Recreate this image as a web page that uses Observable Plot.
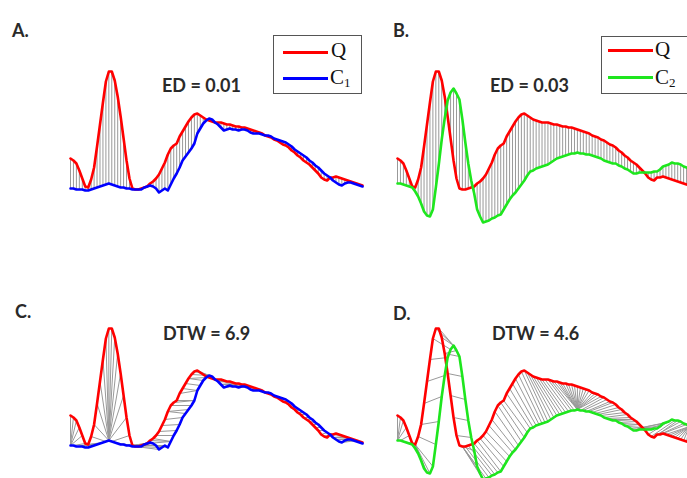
<!DOCTYPE html>
<html>
<head>
<meta charset="utf-8">
<script src="https://cdn.jsdelivr.net/npm/d3@7"></script>
<script src="https://cdn.jsdelivr.net/npm/@observablehq/plot@0.6"></script>
<style>
  html, body { margin: 0; padding: 0; background: #fff; }
  #fig { position: relative; width: 687px; height: 478px; overflow: hidden; background: #fff; }
  .panel { position: absolute; }
  .lbl { position: absolute; font-family: Lato, "Open Sans", sans-serif; font-weight: 700; font-size: 18px; line-height: 18px; color: #2a2a2a; white-space: nowrap; }
  .box { position: absolute; border: 1.5px solid #555; background: #fff; box-sizing: border-box; }
  .key { position: absolute; height: 3px; }
  .ser { position: absolute; font-family: "Liberation Serif", "DejaVu Serif", serif; font-size: 21px; line-height: 21px; color: #111; white-space: nowrap; }
  .ser sub { font-size: 13px; vertical-align: -3px; line-height: 0; }
</style>
</head>
<body>
<div id="fig"></div>
<script>
// Query series Q and candidate series C1, C2 (arbitrary amplitude units, 100 samples)
const Q = [32,30,27,20,12,4,3,11,23,44, 66,88,109,119,119,110,94,74,52,30,
  12,2,1,1,2,3,4,7,9,12, 16,22,28,36,42,45,47,54,59,64,
  69,73,76,77,75,73,71,70,69,68, 68,68,67,66,66,65,64,64,63,63,
  62,61,60,59,58,57,55,54,53,51, 50,48,46,45,43,40,38,35,33,30,
  28,26,23,20,17,13,11,10,13,13, 14,13,12,11,10,9,8,7,6,5];
const C1 = [2,2,1,1,1,0,0,1,2,3, 4,5,6,7,6,5,4,3,3,2,
  2,1,1,1,1,3,4,5,4,2, -2,0,2,0,6,12,17,23,30,34,
  38,42,47,57,62,67,70,72,71,68, 66,63,60,61,62,61,61,60,61,61,
  60,58,57,57,57,56,55,55,54,52, 51,50,49,48,46,44,41,39,37,35,
  33,30,28,25,23,20,17,15,13,10, 8,6,5,7,8,8,7,6,5,4];
const C2 = [7,7,6,5,4,3,-1,-6,-13,-21, -25,-26,-19,3,26,51,72,90,98,102,
  97,91,71,48,27,10,-3,-19,-26,-32, -31,-30,-28,-27,-25,-24,-19,-14,-9,-5,
  -2,2,6,10,15,19,20,22,23,24, 25,26,28,30,32,33,34,35,36,37,
  37,38,37,37,36,36,35,34,33,32, 30,29,28,27,27,25,24,22,21,19,
  17,17,18,18,18,18,18,19,19,21, 24,25,26,28,27,27,26,24,23,21];

const panelLabels = ["A.", "B.", "C.", "D."];
const measures = ["ED = 0.01", "ED = 0.03", "DTW = 6.9", "DTW = 4.6"];
const seriesNames = ["Q", "C"];
const colors = {Q: "#ff0000", C1: "#0000ff", C2: "#1ee61e"};

const idx = d3.range(Q.length);

// Dynamic time warping alignment path (Sakoe-Chiba band) between two series
function dtwPath(a, b, win) {
  const n = a.length, m = b.length;
  const D = Array.from({length: n + 1}, () => new Float64Array(m + 1).fill(Infinity));
  D[0][0] = 0;
  for (let i = 1; i <= n; i++)
    for (let j = Math.max(1, i - win); j <= Math.min(m, i + win); j++) {
      const c = (a[i - 1] - b[j - 1]) ** 2;
      D[i][j] = c + Math.min(D[i - 1][j], D[i][j - 1], D[i - 1][j - 1]);
    }
  const path = [];
  let i = n, j = m;
  while (i > 0 && j > 0) {
    path.push([i - 1, j - 1]);
    if (i === 1) { j--; continue; }
    if (j === 1) { i--; continue; }
    const d = D[i - 1][j - 1], u = D[i - 1][j], l = D[i][j - 1];
    if (d <= u && d <= l) { i--; j--; }
    else if (u <= l) i--;
    else j--;
  }
  return path.reverse();
}

function panel(C, cColor, mode, xRange, yRange, w, h) {
  const links = mode === "ED"
    ? Plot.ruleX(idx, {x: i => i, y1: i => Q[i], y2: i => C[i], stroke: "#999", strokeWidth: 1})
    : Plot.link(dtwPath(Q, C, 8), {x1: d => d[0], y1: d => Q[d[0]], x2: d => d[1], y2: d => C[d[1]], stroke: "#999", strokeWidth: 1});
  return Plot.plot({
    width: w, height: h,
    margin: 0,
    axis: null,
    style: {background: "transparent", overflow: "hidden"},
    x: {domain: [0, 99], range: xRange},
    y: {domain: [0, 120], range: yRange},
    marks: [
      links,
      Plot.line(idx, {x: i => i, y: i => Q[i], stroke: colors.Q, strokeWidth: 2.6}),
      Plot.line(idx, {x: i => i, y: i => C[i], stroke: cColor, strokeWidth: 2.6})
    ]
  });
}

const fig = document.getElementById("fig");
const W = 372, H = 239;
const specs = [
  {C: C1, col: colors.C1, mode: "ED", left: 0, top: 0, w: W, xr: [70, 362], yr: [190, 70]},
  {C: C2, col: colors.C2, mode: "ED", left: W, top: 0, w: 687 - W, xr: [397 - W, 689 - W], yr: [190, 70]},
  {C: C1, col: colors.C1, mode: "DTW", left: 0, top: H, w: W, xr: [70, 362], yr: [447 - H, 327 - H]},
  {C: C2, col: colors.C2, mode: "DTW", left: W, top: H, w: 687 - W, xr: [397 - W, 689 - W], yr: [447 - H, 327 - H]}
];
for (const s of specs) {
  const svg = panel(s.C, s.col, s.mode, s.xr, s.yr, s.w, H);
  svg.classList.add("panel");
  svg.style.left = s.left + "px";
  svg.style.top = s.top + "px";
  fig.appendChild(svg);
}

function addEl(cls, left, top, html, extra) {
  const d = document.createElement("div");
  d.className = cls;
  d.style.left = left + "px";
  d.style.top = top + "px";
  if (html != null) d.innerHTML = html;
  if (extra) Object.assign(d.style, extra);
  fig.appendChild(d);
  return d;
}

// panel letters and distance annotations
addEl("lbl", 12, 21, panelLabels[0]);
addEl("lbl", 393, 21, panelLabels[1]);
addEl("lbl", 15, 302, panelLabels[2]);
addEl("lbl", 393, 304, panelLabels[3]);
addEl("lbl", 162, 76, measures[0]);
addEl("lbl", 490, 76, measures[1]);
addEl("lbl", 163, 324, measures[2]);
addEl("lbl", 492, 324, measures[3]);

// legends
addEl("box", 273, 35, null, {width: "89px", height: "59px"});
addEl("key", 283, 51, null, {width: "45px", background: colors.Q});
addEl("key", 283, 77, null, {width: "45px", background: colors.C1});
addEl("ser", 331, 40, seriesNames[0]);
addEl("ser", 330, 67, seriesNames[1] + "<sub>1</sub>");

addEl("box", 601, 36, null, {width: "100px", height: "58px"});
addEl("key", 608, 49, null, {width: "45px", background: colors.Q});
addEl("key", 608, 76, null, {width: "45px", background: colors.C2});
addEl("ser", 655, 39, seriesNames[0]);
addEl("ser", 655, 67, seriesNames[1] + "<sub>2</sub>");
</script>
</body>
</html>
